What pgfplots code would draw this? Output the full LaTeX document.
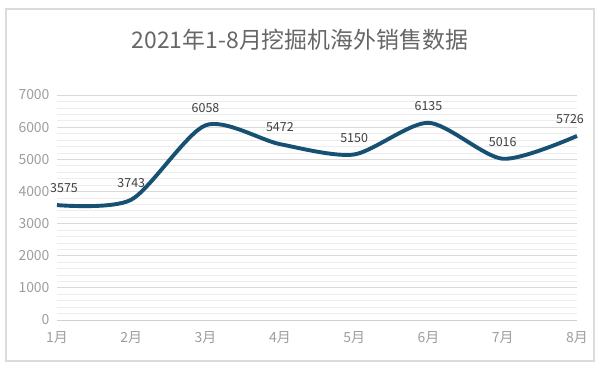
\documentclass[border=0pt]{standalone}
\usepackage{fontspec}
\setmainfont{Noto Sans CJK SC}
\usepackage{pgfplots}
\pgfplotsset{compat=1.18}
\definecolor{linec}{RGB}{22,80,114}
\begin{document}
\begin{tikzpicture}
\useasboundingbox (0bp,0bp) rectangle (600bp,370bp);
\draw[draw=black!14, line width=1.2bp, fill=white] (6bp,9bp) rectangle (594bp,361bp);
\node[text=black!60, font=\fontsize{23}{27}\selectfont] at (300bp,330bp) {2021年1-8月挖掘机海外销售数据};
\begin{axis}[
  at={(57bp,50bp)}, anchor=south west,
  scale only axis, width=520bp, height=225bp,
  xmin=0, xmax=7, ymin=0, ymax=7000,
  xtick={0,...,7}, xticklabels={1月,2月,3月,4月,5月,6月,7月,8月},
  ytick={0,1000,...,7000}, minor y tick num=4,
  ymajorgrids, yminorgrids,
  major grid style={draw=black!15, line width=0.8bp},
  minor grid style={draw=black!7, line width=0.6bp},
  axis x line*=bottom, axis y line*=left,
  y axis line style={draw=none},
  x axis line style={draw=black!18, line width=1bp, -},
  major tick length=0pt, minor tick length=0pt,
  tick style={draw=none},
  ticklabel style={text=black!38, font=\fontsize{14}{16}\selectfont},
  yticklabel style={xshift=-4bp},
  xticklabel style={yshift=-8bp},
  /pgf/number format/1000 sep={},
  /pgf/number format/assume math mode=true,
  clip=false,
]
\addplot[linec, line width=3.9bp, smooth, tension=0.45,
  nodes near coords,
  every node near coord/.append style={text=black!75, font=\fontsize{12.5}{14}\selectfont, yshift=7bp},
  coordinate style/.condition={x==0}{xshift=7bp},
  coordinate style/.condition={x==7}{xshift=-7bp},
] coordinates {(0,3575) (1,3743) (2,6058) (3,5472) (4,5150) (5,6135) (6,5016) (7,5726)};
\end{axis}
\end{tikzpicture}
\end{document}
